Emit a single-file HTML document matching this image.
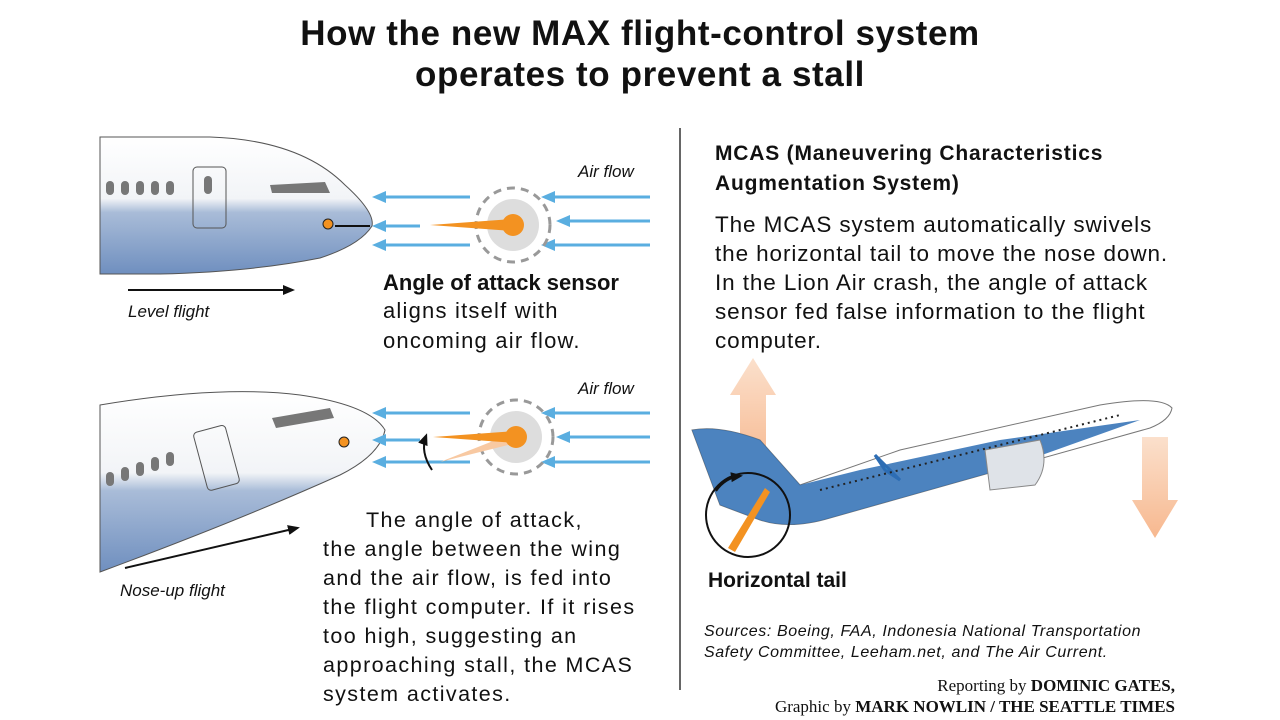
<!DOCTYPE html>
<html><head><meta charset="utf-8"><style>
body{margin:0;background:#fff;width:1280px;height:720px;overflow:hidden;font-family:"Liberation Sans","DejaVu Sans",sans-serif}
svg{display:block}
</style></head><body>
<svg width="1280" height="720" viewBox="0 0 1280 720">
<defs>
<linearGradient id="fus" x1="0" y1="0" x2="0" y2="1">
<stop offset="0" stop-color="#fff"/><stop offset="0.45" stop-color="#f2f4f7"/><stop offset="0.55" stop-color="#a9bcd8"/><stop offset="1" stop-color="#6f8fbf"/></linearGradient>
<linearGradient id="arrOr" x1="0" y1="0" x2="0" y2="1"><stop offset="0" stop-color="#fbe0cc"/><stop offset="1" stop-color="#f7b88f"/></linearGradient>
<marker id="ab" markerUnits="userSpaceOnUse" markerWidth="14" markerHeight="14" refX="10" refY="7" orient="auto"><path d="M0,1L14,7L0,13z" fill="#5aaee0"/></marker>
<marker id="ak" markerUnits="userSpaceOnUse" markerWidth="12" markerHeight="12" refX="9" refY="6" orient="auto"><path d="M0,1L12,6L0,11z" fill="#111"/></marker>
</defs>
<g font-weight="bold" font-size="35" text-anchor="middle" fill="#111" letter-spacing="0.6">
<text x="640" y="45">How the new MAX flight-control system</text>
<text x="640" y="86">operates to prevent a stall</text></g>
<line x1="680" y1="128" x2="680" y2="690" stroke="#333" stroke-width="1.5"/>

<g>
<path d="M100,137 L210,137 Q300,140 345,185 Q375,212 372,226 Q360,245 320,258 Q250,272 160,274 L100,274 Z" fill="url(#fus)" stroke="#555" stroke-width="1"/>
<g fill="#777"><rect x="106" y="181" width="8" height="14" rx="4"/><rect x="121" y="181" width="8" height="14" rx="4"/><rect x="136" y="181" width="8" height="14" rx="4"/><rect x="151" y="181" width="8" height="14" rx="4"/><rect x="166" y="181" width="8" height="14" rx="4"/><rect x="204" y="176" width="8" height="18" rx="4"/>
<path d="M270,185 L325,182 L330,193 L272,193 Z"/></g>
<rect x="193" y="167" width="33" height="61" rx="4" fill="none" stroke="#555"/>
<circle cx="328" cy="224" r="5" fill="#f39221" stroke="#222"/>
<line x1="335" y1="226" x2="370" y2="226" stroke="#111" stroke-width="2"/>
</g>
<g stroke="#5aaee0" stroke-width="3" marker-end="url(#ab)">
<line x1="470" y1="197" x2="376" y2="197"/><line x1="420" y1="226" x2="376" y2="226"/><line x1="470" y1="245" x2="376" y2="245"/>
<line x1="650" y1="197" x2="545" y2="197"/><line x1="650" y1="221" x2="560" y2="221"/><line x1="650" y1="245" x2="545" y2="245"/></g>
<g>
<circle cx="513" cy="225" r="37" fill="none" stroke="#999" stroke-width="3" stroke-dasharray="8 6"/>
<circle cx="513" cy="225" r="26" fill="#ddd"/>
<path d="M430,225 L513,219 L513,231 Z" fill="#f39221"/><circle cx="513" cy="225" r="11" fill="#f39221"/></g>
<text x="578" y="177" font-style="italic" font-size="17" fill="#111">Air flow</text>
<text x="383" y="290" font-weight="bold" font-size="22" fill="#111">Angle of attack sensor</text>
<g font-size="22" fill="#111" letter-spacing="1.2"><text x="383" y="318">aligns itself with</text><text x="383" y="348">oncoming air flow.</text></g>
<line x1="128" y1="290" x2="292" y2="290" stroke="#111" stroke-width="2" marker-end="url(#ak)"/>
<text x="128" y="317" font-style="italic" font-size="17" fill="#111">Level flight</text>

<g>
<path d="M100,405 Q220,385 300,395 Q370,405 385,430 Q380,455 340,475 Q240,520 100,572 Z" fill="url(#fus)" stroke="#555"/>
<g fill="#777"><rect x="106" y="472" width="8" height="14" rx="4"/><rect x="121" y="467" width="8" height="14" rx="4"/><rect x="136" y="462" width="8" height="14" rx="4"/><rect x="151" y="457" width="8" height="14" rx="4"/><rect x="166" y="452" width="8" height="14" rx="4"/><path d="M272,418 L330,408 L334,418 L276,428 Z"/></g>
<rect x="200" y="428" width="33" height="60" rx="4" fill="none" stroke="#555" transform="rotate(-15 216 458)"/>
<circle cx="344" cy="442" r="5" fill="#f39221" stroke="#222"/>
</g>
<g stroke="#5aaee0" stroke-width="3" marker-end="url(#ab)">
<line x1="470" y1="413" x2="376" y2="413"/><line x1="420" y1="440" x2="376" y2="440"/><line x1="470" y1="462" x2="376" y2="462"/>
<line x1="650" y1="413" x2="545" y2="413"/><line x1="650" y1="437" x2="560" y2="437"/><line x1="650" y1="462" x2="545" y2="462"/></g>
<g>
<circle cx="516" cy="437" r="37" fill="none" stroke="#999" stroke-width="3" stroke-dasharray="8 6"/>
<circle cx="516" cy="437" r="26" fill="#ddd"/>
<path d="M440,462 L516,432 L520,442 Z" fill="#f8c9a2"/>
<path d="M433,437 L516,431 L516,443 Z" fill="#f39221"/><circle cx="516" cy="437" r="11" fill="#f39221"/>
<path d="M432,470 Q420,452 426,436" fill="none" stroke="#111" stroke-width="2" marker-end="url(#ak)"/></g>
<text x="578" y="394" font-style="italic" font-size="17" fill="#111">Air flow</text>
<line x1="125" y1="568" x2="297" y2="528" stroke="#111" stroke-width="2" marker-end="url(#ak)"/>
<text x="120" y="596" font-style="italic" font-size="17" fill="#111">Nose-up flight</text>
<g font-size="21.5" fill="#111" letter-spacing="1.4">
<text x="366" y="527">The angle of attack,</text><text x="323" y="556">the angle between the wing</text><text x="323" y="585">and the air flow, is fed into</text><text x="323" y="614">the flight computer. If it rises</text><text x="323" y="643">too high, suggesting an</text><text x="323" y="672">approaching stall, the MCAS</text><text x="323" y="701">system activates.</text></g>

<g font-weight="bold" font-size="21" fill="#111" letter-spacing="0.8"><text x="715" y="160">MCAS (Maneuvering Characteristics</text><text x="715" y="190">Augmentation System)</text></g>
<g font-size="22.5" fill="#111" letter-spacing="0.9"><text x="715" y="232">The MCAS system automatically swivels</text><text x="715" y="261">the horizontal tail to move the nose down.</text><text x="715" y="290">In the Lion Air crash, the angle of attack</text><text x="715" y="319">sensor fed false information to the flight</text><text x="715" y="348">computer.</text></g>

<path d="M740,470 L740,395 L730,395 L753,358 L776,395 L766,395 L766,470 Z" fill="url(#arrOr)"/>
<path d="M1142,437 L1142,500 L1132,500 L1155,538 L1178,500 L1168,500 L1168,437 Z" fill="url(#arrOr)"/>
<g>
<path d="M692,430 Q720,425 760,440 L800,485 L900,450 L1100,405 Q1160,395 1172,408 Q1170,420 1150,428 L1000,470 L830,518 Q790,530 760,520 L720,505 Z" fill="#fff" stroke="#777"/>
<path d="M692,430 Q720,425 760,440 L800,485 L860,470 L1000,440 L1140,420 L1000,470 L830,518 Q790,530 760,520 L720,505 Z" fill="#2d6db4" opacity="0.85"/>
<path d="M985,450 L1040,440 Q1050,465 1035,485 L990,490 Z" fill="#dfe3e8" stroke="#888"/>
<path d="M875,455 L900,480 L885,470 Z" fill="#3aa0d8" stroke="#2d6db4" stroke-width="3"/>
<line x1="820" y1="490" x2="1120" y2="415" stroke="#222" stroke-width="2" stroke-dasharray="2 4"/>
</g>
<g>
<circle cx="748" cy="515" r="42" fill="none" stroke="#111" stroke-width="2"/>
<path d="M728,548 L765,488 L770,492 L735,552 Z" fill="#f39221"/>
<path d="M716,491 Q725,478 740,476" fill="none" stroke="#111" stroke-width="2" marker-end="url(#ak)"/></g>
<text x="708" y="587" font-weight="bold" font-size="21" fill="#111">Horizontal tail</text>
<g font-style="italic" font-size="16" fill="#111" letter-spacing="0.6"><text x="704" y="636">Sources: Boeing, FAA, Indonesia National Transportation</text><text x="704" y="657">Safety Committee, Leeham.net, and The Air Current.</text></g>
<g font-family="Liberation Serif,serif" font-size="17" fill="#111" text-anchor="end"><text x="1175" y="691">Reporting by <tspan font-weight="bold">DOMINIC GATES,</tspan></text><text x="1175" y="712">Graphic by <tspan font-weight="bold">MARK NOWLIN / THE SEATTLE TIMES</tspan></text></g>
</svg>
</body></html>
